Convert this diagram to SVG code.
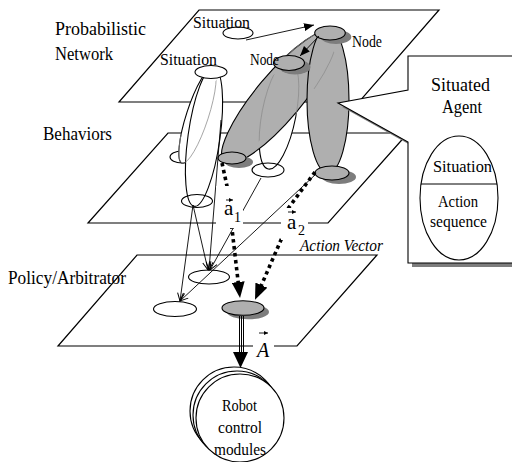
<svg xmlns="http://www.w3.org/2000/svg" width="512" height="462" viewBox="0 0 512 462">
<style>
text { font-family: "Liberation Serif", serif; fill: #000; }
.plane { fill: none; stroke: #000; stroke-width: 1.2; }
.w { fill: #fff; stroke: #000; stroke-width: 1.1; }
.wn { fill: none; stroke: #000; stroke-width: 1.1; }
.g { fill: #afafaf; stroke: #000; stroke-width: 1.1; }
.sh { fill: #7d7d7d; stroke: none; }
.hid { fill: none; stroke: #8c8c8c; stroke-width: 0.7; }
.thin { fill: none; stroke: #000; stroke-width: 0.9; }
.dot { fill: none; stroke: #000; stroke-width: 3.6; stroke-dasharray: 3.5 3.5; }
.lbl { font-size: 19px; }
.nl { font-size: 17px; }
</style>
<defs>
  <marker id="ah" viewBox="0 0 10 8" refX="9" refY="4" markerWidth="10" markerHeight="8" markerUnits="userSpaceOnUse" orient="auto">
    <path d="M1,0.5 L9,4 L1,7.5" fill="none" stroke="#000" stroke-width="1"/>
  </marker>
  <marker id="ahf" viewBox="0 0 10 8" refX="10" refY="4" markerWidth="10" markerHeight="8" markerUnits="userSpaceOnUse" orient="auto">
    <path d="M0,0 L10,4 L0,8 Z" fill="#000"/>
  </marker>
  <marker id="ahb" viewBox="0 0 16 13" refX="2" refY="6.5" markerWidth="16" markerHeight="13" markerUnits="userSpaceOnUse" orient="auto">
    <path d="M0,0 L16,6.5 L0,13 Z" fill="#000"/>
  </marker>
  <marker id="ahv" viewBox="0 0 4 4" refX="4" refY="2" markerWidth="4" markerHeight="4" markerUnits="userSpaceOnUse" orient="auto">
    <path d="M0,0 L4,2 L0,4 Z" fill="#000"/>
  </marker>
  <clipPath id="clipW1"><ellipse cx="204" cy="137" rx="16" ry="70" transform="rotate(8 204 137)"/></clipPath>
  <clipPath id="clipD"><ellipse cx="279" cy="97" rx="85" ry="23" transform="rotate(-50 279 97)"/></clipPath>
  <clipPath id="clipR"><ellipse cx="328" cy="100" rx="21" ry="73"/></clipPath>
</defs>

<g id="planes">
  <polygon class="plane" points="199,10 439,10 359,102 119,102"/>
  <polygon class="plane" points="168,133 408,133 328,223 88,223"/>
  <polygon class="plane" points="137,255 377,255 297,346 58,346"/>
</g>

<g id="layer-labels">
  <text class="lbl" x="55" y="35" textLength="91" lengthAdjust="spacingAndGlyphs">Probabilistic</text>
  <text class="lbl" x="55" y="60" textLength="58" lengthAdjust="spacingAndGlyphs">Network</text>
  <text class="lbl" x="43" y="140" textLength="69" lengthAdjust="spacingAndGlyphs">Behaviors</text>
  <text x="8" y="284" font-size="18" textLength="118" lengthAdjust="spacingAndGlyphs">Policy/Arbitrator</text>
  <text x="300" y="251" font-size="16" font-style="italic" textLength="83" lengthAdjust="spacingAndGlyphs">Action Vector</text>
</g>

<g id="behavior-left-end">
  <ellipse class="w" cx="182" cy="157" rx="12" ry="6"/>
</g>
<g id="behavior-w2">
  <ellipse class="w" cx="197.5" cy="115.5" rx="11" ry="50" transform="rotate(18 197.5 115.5)"/>
</g>
<g id="behavior-w1">
  <ellipse class="w" cx="204" cy="137" rx="16" ry="70" transform="rotate(8 204 137)"/>
  <ellipse class="hid" clip-path="url(#clipW1)" cx="197.5" cy="115.5" rx="11" ry="50" transform="rotate(18 197.5 115.5)"/>
</g>
<g id="behavior-mid">
  <ellipse class="w" cx="279" cy="114" rx="17" ry="56" transform="rotate(11 279 114)"/>
</g>
<g id="behavior-diag">
  <ellipse class="g" cx="279" cy="97" rx="85" ry="23" transform="rotate(-50 279 97)"/>
  <ellipse class="hid" clip-path="url(#clipD)" cx="279" cy="114" rx="17" ry="56" transform="rotate(11 279 114)"/>
</g>
<g id="behavior-right">
  <ellipse class="g" cx="328" cy="100" rx="21" ry="73"/>
  <ellipse class="hid" clip-path="url(#clipR)" cx="279" cy="97" rx="85" ry="23" transform="rotate(-50 279 97)"/>
</g>

<g id="beh-grey-1">
  <ellipse class="sh" cx="239" cy="162" rx="14" ry="6"/>
  <ellipse class="g" cx="232" cy="158" rx="14" ry="6"/>
</g>
<g id="beh-grey-2">
  <ellipse class="sh" cx="339" cy="177" rx="17" ry="7"/>
  <ellipse class="g" cx="332" cy="173" rx="17" ry="7"/>
</g>
<g id="beh-white-mid">
  <ellipse class="wn" cx="268" cy="170" rx="16" ry="7"/>
</g>
<g id="beh-white-left">
  <ellipse class="wn" cx="197" cy="201" rx="15.5" ry="6.5"/>
</g>

<g id="situation-top">
  <ellipse class="w" cx="238" cy="33" rx="15" ry="6"/>
  <text class="nl" x="193" y="28" textLength="57" lengthAdjust="spacingAndGlyphs">Situation</text>
</g>
<g id="situation-2">
  <ellipse class="w" cx="211" cy="72" rx="16" ry="6.5"/>
  <text class="nl" x="160" y="65" textLength="57" lengthAdjust="spacingAndGlyphs">Situation</text>
</g>
<g id="node-mid">
  <ellipse class="sh" cx="295" cy="67" rx="15.5" ry="7.5"/>
  <ellipse class="g" cx="289" cy="63" rx="15.5" ry="7.5"/>
  <text class="nl" x="250" y="65" textLength="29" lengthAdjust="spacingAndGlyphs">Node</text>
</g>
<g id="node-right">
  <ellipse class="sh" cx="336" cy="37" rx="15.3" ry="7"/>
  <ellipse class="g" cx="330" cy="33" rx="15.3" ry="7"/>
  <text class="nl" x="352" y="47" textLength="30" lengthAdjust="spacingAndGlyphs">Node</text>
</g>

<g id="policy-left"><ellipse class="w" cx="175" cy="309" rx="21.5" ry="7.5"/></g>
<g id="policy-mid"><ellipse class="w" cx="209" cy="277" rx="20.5" ry="7"/></g>
<g id="policy-out">
  <ellipse class="sh" cx="248" cy="312" rx="21" ry="7.3"/>
  <ellipse class="g" cx="243" cy="308" rx="21" ry="7.3"/>
</g>

<g id="connectors">
  <line class="thin" x1="246" y1="40" x2="314" y2="25" marker-end="url(#ahf)"/>
  <line class="thin" x1="319" y1="36" x2="300" y2="56" marker-end="url(#ahf)"/>
  <line class="thin" x1="221" y1="120" x2="209" y2="270" marker-end="url(#ah)"/>
  <line class="thin" x1="193" y1="205" x2="180" y2="301" marker-end="url(#ah)"/>
  <line class="thin" x1="193" y1="205" x2="208" y2="270" marker-end="url(#ah)"/>
  <line class="thin" x1="316" y1="174" x2="180" y2="301" marker-end="url(#ah)"/>
  <line class="thin" x1="261" y1="178" x2="210" y2="270" marker-end="url(#ah)"/>
  <path class="dot" d="M222,163 L227,186 L232,229 L238.4,284" marker-end="url(#ahb)"/>
  <path class="dot" d="M315,172 L287,210 L284,233 L260.6,287" marker-end="url(#ahb)"/>
  <g id="output-arrow">
    <line x1="239.5" y1="316" x2="239.5" y2="353" stroke="#000" stroke-width="1"/>
    <line x1="241.5" y1="316" x2="241.5" y2="353" stroke="#000" stroke-width="1"/>
    <line x1="243.5" y1="316" x2="243.5" y2="353" stroke="#000" stroke-width="1"/>
    <polygon points="233,352 248,352 240.5,368" fill="#000"/>
  </g>
</g>

<g id="label-a1">
  <rect x="216" y="186" width="27" height="42" fill="#fff"/>
  <line x1="226" y1="200" x2="233" y2="200" stroke="#000" stroke-width="0.9" marker-end="url(#ahv)"/>
  <text x="224" y="215" font-size="21">a</text>
  <text x="234" y="222" font-size="14">1</text>
</g>
<g id="label-a2">
  <rect x="281" y="208" width="27" height="32" fill="#fff"/>
  <line x1="288" y1="212" x2="296" y2="212" stroke="#000" stroke-width="0.9" marker-end="url(#ahv)"/>
  <text x="287" y="229" font-size="21">a</text>
  <text x="298" y="235" font-size="14">2</text>
</g>
<g id="label-A">
  <rect x="253" y="328" width="21" height="32" fill="#fff"/>
  <line x1="259" y1="333" x2="268" y2="333" stroke="#000" stroke-width="0.9" marker-end="url(#ahv)"/>
  <text x="257" y="357" font-size="20" font-style="italic">A</text>
</g>

<g id="robot">
  <circle class="w" cx="234" cy="411" r="44"/>
  <circle class="w" cx="237" cy="415" r="44"/>
  <circle class="w" cx="240" cy="418" r="44"/>
  <text x="222" y="411" font-size="16" textLength="35" lengthAdjust="spacingAndGlyphs">Robot</text>
  <text x="218" y="433" font-size="16" textLength="44" lengthAdjust="spacingAndGlyphs">control</text>
  <text x="214" y="455" font-size="16" textLength="52" lengthAdjust="spacingAndGlyphs">modules</text>
</g>

<g id="situated-agent">
  <path d="M408,56 H520 V263 H408 V142 L338,103 L408,90 Z" fill="#7d7d7d" transform="translate(4,4)"/>
  <path d="M408,56 H520 V263 H408 V142 L338,103 L408,90 Z" fill="#fff" stroke="#000" stroke-width="1.1"/>
  <text class="lbl" x="431" y="91" textLength="59" lengthAdjust="spacingAndGlyphs">Situated</text>
  <text class="lbl" x="442" y="113" textLength="40" lengthAdjust="spacingAndGlyphs">Agent</text>
  <ellipse class="w" cx="459" cy="198" rx="39" ry="62"/>
  <line x1="421" y1="184" x2="497" y2="184" stroke="#000" stroke-width="1"/>
  <text class="nl" x="433" y="172" textLength="59" lengthAdjust="spacingAndGlyphs">Situation</text>
  <text x="438" y="207" font-size="17" textLength="40" lengthAdjust="spacingAndGlyphs">Action</text>
  <text x="430" y="227" font-size="17" textLength="57" lengthAdjust="spacingAndGlyphs">sequence</text>
</g>
</svg>
